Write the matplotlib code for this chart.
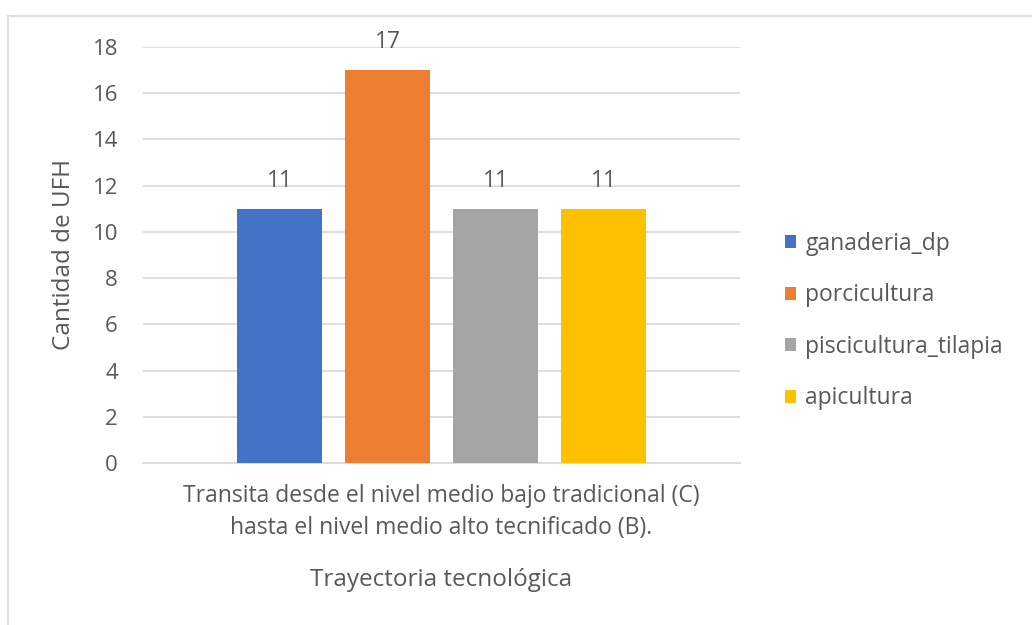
import matplotlib.pyplot as plt
import numpy as np

# Values
series = ['ganaderia_dp', 'porcicultura', 'piscicultura_tilapia', 'apicultura']
values = [11, 17, 11, 11]
colors = ['#4472C4', '#ED7D31', '#A5A5A5', '#FFC000']
category = 'Transita desde el nivel medio bajo tradicional (C)\nhasta el nivel medio alto tecnificado (B).'
yticks = [0, 2, 4, 6, 8, 10, 12, 14, 16, 18]

plt.rcParams['font.family'] = ['Open Sans', 'DejaVu Sans']
text_color = '#595959'

fig = plt.figure(figsize=(10.32, 6.25), dpi=100)
ax = fig.add_axes([143 / 1032, 1 - 463 / 625, 597 / 1032, 416 / 625])

# outer chart border (only left and top visible in the reference)
fig.add_artist(plt.Line2D([8 / 1032, 8 / 1032], [0, 1 - 16 / 625], color='#d9d9d9', lw=1.2))
fig.add_artist(plt.Line2D([8 / 1032, 1], [1 - 16 / 625, 1 - 16 / 625], color='#d9d9d9', lw=1.2))

step = 108 / 597
width = 85 / 597
offsets = (np.arange(len(series)) - 1.5) * step
for off, val, name, c in zip(offsets, values, series, colors):
    ax.bar(off, val, width=width, color=c, label=name, zorder=3)
    ax.annotate(str(val), (off, val), xytext=(0, 20), textcoords='offset points',
                ha='center', va='center', fontsize=16.5, color=text_color)

ax.set_xlim(-0.5, 0.5)
ax.set_ylim(0, 18)
ax.set_yticks(yticks)
ax.set_xticks([0])
ax.set_xticklabels([category], fontsize=16.5, color=text_color, linespacing=1.45)
ax.tick_params(axis='x', length=0, pad=15)
ax.tick_params(axis='y', length=0, pad=18, labelsize=16, labelcolor=text_color)
ax.grid(axis='y', color='#d9d9d9', lw=1.2, zorder=0)
for s in ['top', 'right', 'left']:
    ax.spines[s].set_visible(False)
ax.spines['bottom'].set_color('#d9d9d9')
ax.spines['bottom'].set_linewidth(1.2)

ax.set_ylabel('Cantidad de UFH', fontsize=17.5, color=text_color, labelpad=12)
ax.set_xlabel('Trayectoria tecnológica', fontsize=17.5, color=text_color, labelpad=20)

fig.legend(loc='center left', bbox_to_anchor=(764 / 1032, 1 - 321 / 625), frameon=False,
           fontsize=16.5, labelcolor=text_color, handlelength=0.5, handleheight=0.5,
           handletextpad=0.4, labelspacing=1.2)

fig.savefig('out.png', dpi=100)
